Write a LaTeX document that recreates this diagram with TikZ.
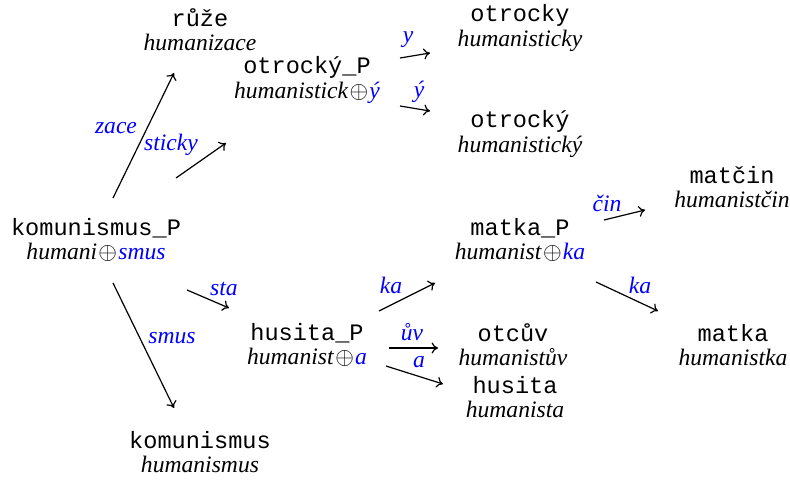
\documentclass[tikz,border=0pt]{standalone}
\usepackage{fontspec}
\usetikzlibrary{arrows.meta}
\setmainfont{Liberation Serif}
\setmonofont{Liberation Mono}
\newcommand{\wpair}[2]{\texttt{#1}\\\textit{#2}}
\newcommand{\opl}{\kern0.6pt$\oplus$\kern0.6pt}
\begin{document}
\begin{tikzpicture}[x=0.5pt,y=-0.5pt,
  word/.style={align=center,inner sep=0pt,font=\fontsize{11.8}{12.2}\selectfont},
  lab/.style={inner sep=0pt,text=blue,font=\fontsize{11.8}{12.2}\selectfont\itshape},
  conn/.style={-{To[length=3.2pt,width=5.5pt]},line width=0.6pt}]
\useasboundingbox (0,0) rectangle (790,481);
% nodes
\node[word] (ruze) at (200,30) {\wpair{růže}{humanizace}};
\node[word] (otrP) at (307,80) {\texttt{otrocký\_P}\\\textit{humanistick}\opl\textcolor{blue}{\textit{ý}}};
\node[word] (otrocky) at (520,28) {\wpair{otrocky}{humanisticky}};
\node[word] (otrocky2) at (520,134) {\wpair{otrocký}{humanistický}};
\node[word] (matcin) at (732,187) {\wpair{matčin}{humanistčin}};
\node[word] (komP) at (96,240) {\texttt{komunismus\_P}\\\textit{humani}\opl\textcolor{blue}{\textit{smus}}};
\node[word] (matkaP) at (520,240) {\texttt{matka\_P}\\\textit{humanist}\opl\textcolor{blue}{\textit{ka}}};
\node[word] (husP) at (307,345) {\texttt{husita\_P}\\\textit{humanist}\opl\textcolor{blue}{\textit{a}}};
\node[word] (otcuv) at (513,345) {\wpair{otcův}{humanistův}};
\node[word] (husita) at (515,397) {\wpair{husita}{humanista}};
\node[word] (matka) at (733,345) {\wpair{matka}{humanistka}};
\node[word] (komun) at (200,452) {\wpair{komunismus}{humanismus}};
% arrow end points
\coordinate (a1s) at (113,198); \coordinate (a1e) at (174,73);
\coordinate (a2s) at (176,178); \coordinate (a2e) at (226,143);
\coordinate (a3s) at (113,283); \coordinate (a3e) at (174,408);
\coordinate (a4s) at (187,290); \coordinate (a4e) at (229,308);
\coordinate (a5s) at (400,58);  \coordinate (a5e) at (430,53);
\coordinate (a6s) at (400,106); \coordinate (a6e) at (430,111);
\coordinate (a7s) at (379,311); \coordinate (a7e) at (435,283);
\coordinate (a8s) at (389,348); \coordinate (a8e) at (438,348);
\coordinate (a9s) at (386,366); \coordinate (a9e) at (443,384);
\coordinate (a10s) at (604,220); \coordinate (a10e) at (645,210);
\coordinate (a11s) at (596,282); \coordinate (a11e) at (658,311);
\draw[conn] (a1s) -- (a1e);
\draw[conn] (a2s) -- (a2e);
\draw[conn] (a3s) -- (a3e);
\draw[conn] (a4s) -- (a4e);
\draw[conn] (a5s) -- (a5e);
\draw[conn] (a6s) -- (a6e);
\draw[conn] (a7s) -- (a7e);
\draw[conn] (a8s) -- (a8e);
\draw[conn] (a9s) -- (a9e);
\draw[conn] (a10s) -- (a10e);
\draw[conn] (a11s) -- (a11e);
% labels
\node[lab] (l1) at (116,128) {zace};
\node[lab] (l2) at (171,145) {sticky};
\node[lab] (l3) at (172,338) {smus};
\node[lab] (l4) at (224,289) {sta};
\node[lab] (l5) at (408,40) {y};
\node[lab] (l6) at (419,92) {ý};
\node[lab] (l7) at (391,285) {ka};
\node[lab] (l8) at (412,332) {ův};
\node[lab] (l9) at (419,362) {a};
\node[lab] (l10) at (607,203) {čin};
\node[lab] (l11) at (640,285) {ka};
\end{tikzpicture}
\end{document}
